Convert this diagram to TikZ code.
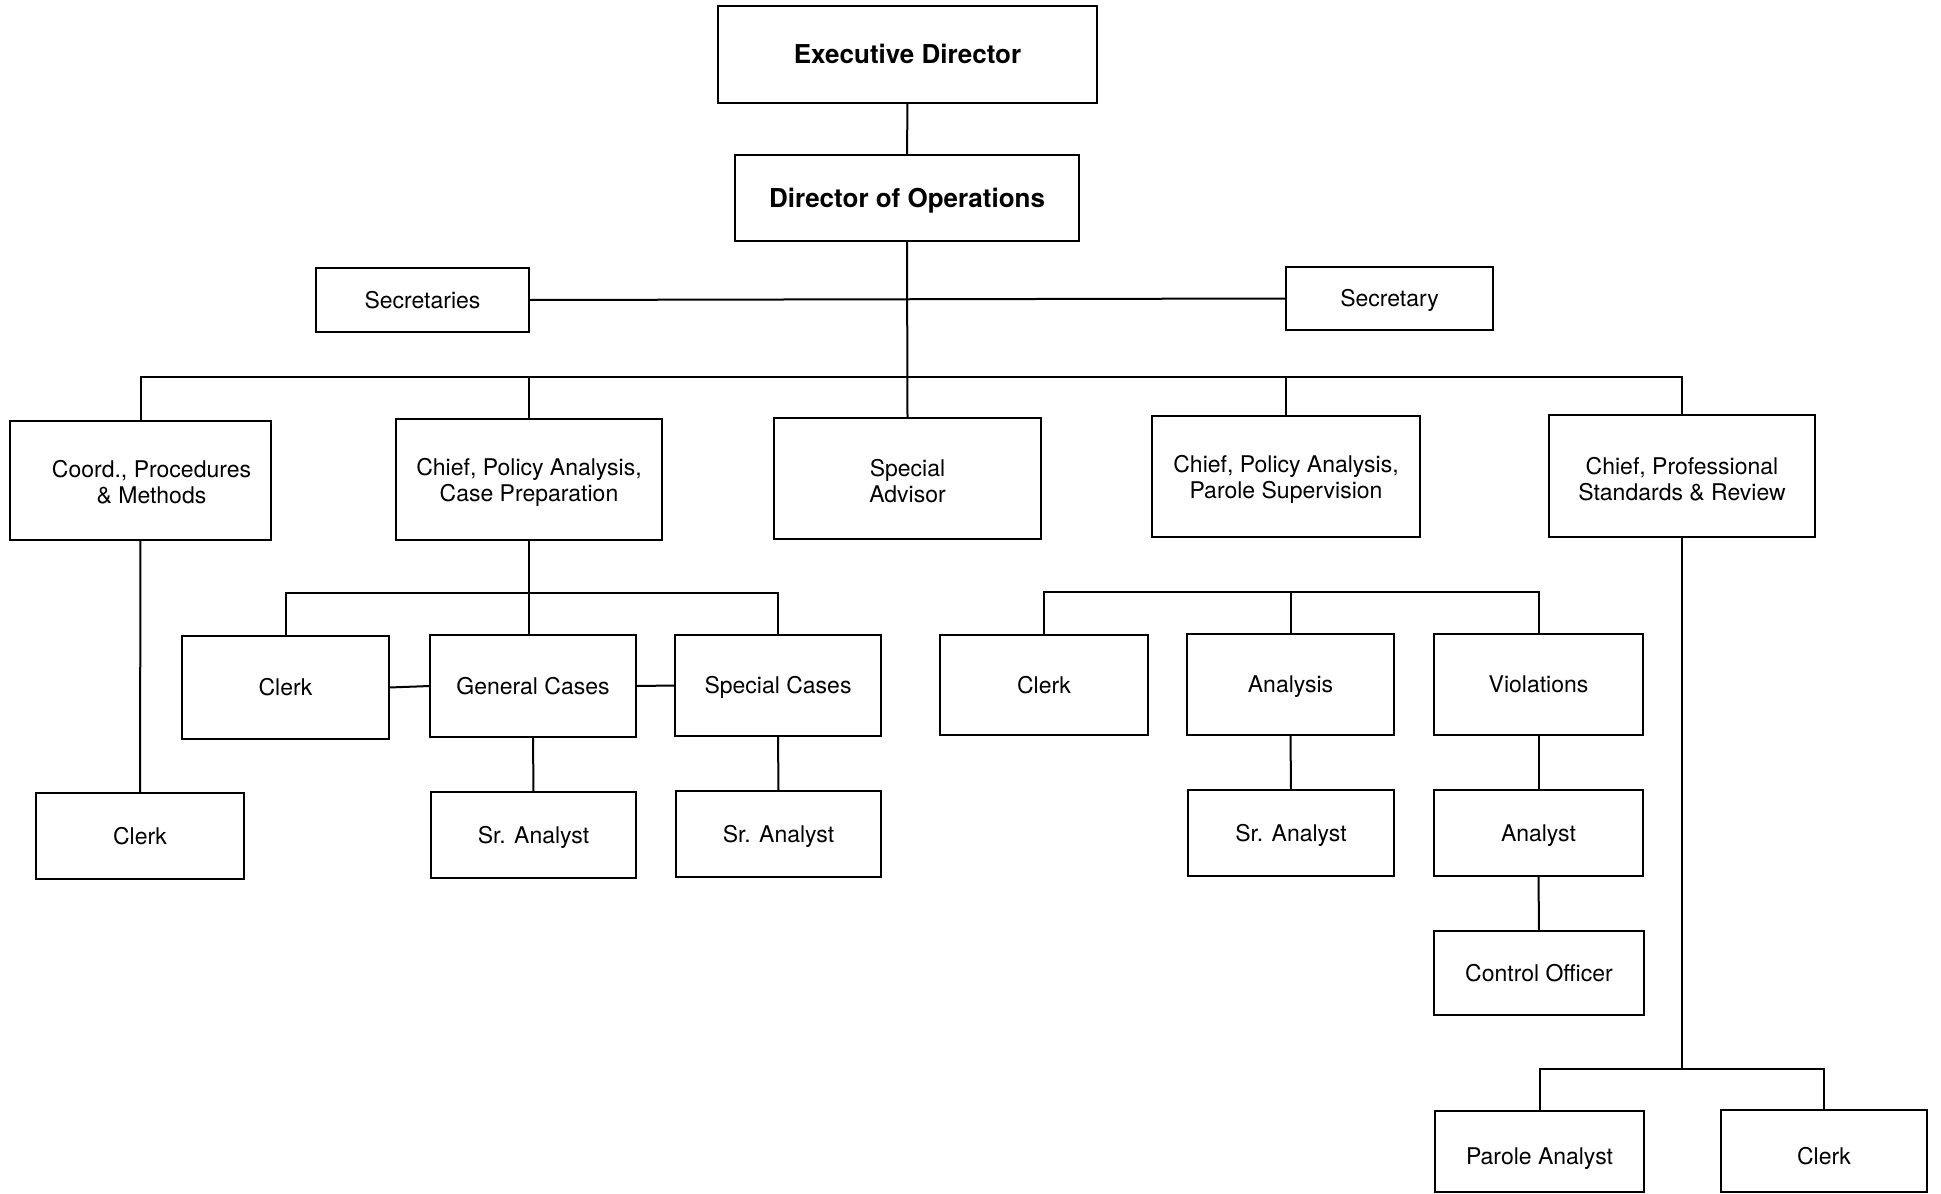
\documentclass[tikz,border=0pt]{standalone}
\usepackage{fontspec}
\setmainfont{TeX Gyre Heros}
\begin{document}
\begin{tikzpicture}[x=1pt,y=-1pt,
  box/.style={draw=black,line width=2.2pt,inner sep=0pt,outer sep=0pt,align=center,
    font=\fontsize{23}{26}\selectfont},
  one/.style={box,text height=21.5pt,text depth=5pt},
  bbox/.style={box,font=\bfseries\fontsize{26}{30}\selectfont,text height=24.2pt,text depth=5.5pt},
  lbl/.style={font=\fontsize{23}{26}\selectfont,align=center},
  conn/.style={draw=black,line width=2pt}]
\useasboundingbox[fill=white] (0,0) rectangle (1941,1194);
% boxes: center, width, height
\node[bbox,minimum width=379pt,minimum height=97pt] (exec) at (907.5,54.5) {Executive Director};
\node[bbox,minimum width=344pt,minimum height=86pt] (dirops) at (907,198) {Director of Operations};
\node[one,minimum width=213pt,minimum height=64pt] (secs) at (422.5,300) {Secretaries};
\node[one,minimum width=207pt,minimum height=63pt] (sec) at (1389.5,298.5) {Secretary};
\node[box,minimum width=261pt,minimum height=119pt,
  label={[lbl,xshift=11pt,yshift=-2pt]center:Coord., Procedures\\\& Methods}] (coord) at (140.5,480.5) {};
\node[box,minimum width=266pt,minimum height=121pt,
  label={[lbl,yshift=-3pt]center:Chief, Policy Analysis,\\Case Preparation}] (caseprep) at (529,479.5) {};
\node[box,minimum width=267pt,minimum height=121pt,
  label={[lbl,yshift=-3pt]center:Special\\Advisor}] (special) at (907.5,478.5) {};
\node[box,minimum width=268pt,minimum height=121pt,
  label={[lbl,yshift=-3pt]center:Chief, Policy Analysis,\\Parole Supervision}] (parole) at (1286,476.5) {};
\node[box,minimum width=266pt,minimum height=122pt,
  label={[lbl,yshift=-3pt]center:Chief, Professional\\Standards \& Review}] (prof) at (1682,476) {};
\node[one,minimum width=207pt,minimum height=103pt] (clerkL) at (285.5,687.5) {Clerk};
\node[one,minimum width=206pt,minimum height=102pt] (general) at (533,686) {General Cases};
\node[one,minimum width=206pt,minimum height=101pt] (specialc) at (778,685.5) {Special Cases};
\node[one,minimum width=205pt,minimum height=86pt] (srG) at (533.5,835) {Sr. Analyst};
\node[one,minimum width=205pt,minimum height=86pt] (srS) at (778.5,834) {Sr. Analyst};
\node[one,minimum width=208pt,minimum height=86pt] (clerkC) at (140,836) {Clerk};
\node[one,minimum width=208pt,minimum height=100pt] (clerkR) at (1044,685) {Clerk};
\node[one,minimum width=207pt,minimum height=101pt] (analysis) at (1290.5,684.5) {Analysis};
\node[one,minimum width=209pt,minimum height=101pt] (viol) at (1538.5,684.5) {Violations};
\node[one,minimum width=206pt,minimum height=86pt] (srA) at (1291,833) {Sr. Analyst};
\node[one,minimum width=209pt,minimum height=86pt] (analyst) at (1538.5,833) {Analyst};
\node[one,minimum width=210pt,minimum height=84pt] (ctrl) at (1539,973) {Control Officer};
\node[box,minimum width=209pt,minimum height=81pt,
  label={[lbl,text height=21.5pt,text depth=5pt,yshift=-5pt]center:Parole Analyst}] (parA) at (1539.5,1151.5) {};
\node[box,minimum width=206pt,minimum height=82pt,
  label={[lbl,text height=21.5pt,text depth=5pt,yshift=-5pt]center:Clerk}] (clerkB) at (1824,1151) {};
% bus coordinates
\coordinate (mb) at (907,377);
\coordinate (sbL) at (530,593);
\coordinate (sbR) at (1290,592);
\coordinate (bb) at (1682,1069);
% connectors
\draw[conn] (exec.south) -- (dirops.north);
\draw[conn] (dirops.south) -- (special.north);
\draw[conn] (secs.east) -- (sec.west);
\draw[conn] (coord.north) -- (coord.north |- mb) -- (prof.north |- mb) -- (prof.north);
\draw[conn] (caseprep.north) -- (caseprep.north |- mb);
\draw[conn] (parole.north) -- (parole.north |- mb);
\draw[conn] (coord.south) -- (clerkC.north);
\draw[conn] (caseprep.south) -- (caseprep.south |- general.north);
\draw[conn] (clerkL.north) -- (clerkL.north |- sbL) -- (specialc.north |- sbL) -- (specialc.north);
\draw[conn] (clerkL.east) -- (general.west);
\draw[conn] (general.east) -- (specialc.west);
\draw[conn] (general.south) -- (srG.north);
\draw[conn] (specialc.south) -- (srS.north);
\draw[conn] (clerkR.north) -- (clerkR.north |- sbR) -- (viol.north |- sbR) -- (viol.north);
\draw[conn] (analysis.north) -- (analysis.north |- sbR);
\draw[conn] (analysis.south) -- (srA.north);
\draw[conn] (viol.south) -- (analyst.north);
\draw[conn] (analyst.south) -- (ctrl.north);
\draw[conn] (prof.south) -- (bb);
\draw[conn] (parA.north) -- (parA.north |- bb) -- (clerkB.north |- bb) -- (clerkB.north);
\end{tikzpicture}
\end{document}
